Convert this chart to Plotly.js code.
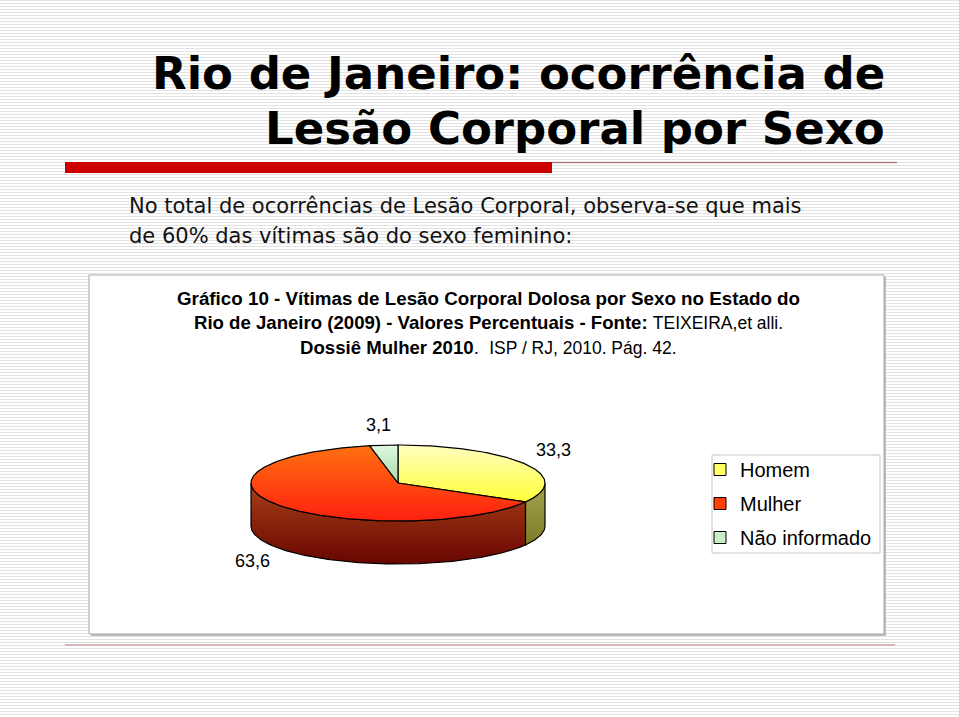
<!DOCTYPE html>
<html><head><meta charset="utf-8">
<script src="https://cdn.plot.ly/plotly-3.0.1.min.js"></script>
<style>
html,body{margin:0;padding:0;}
body{width:959px;height:717px;overflow:hidden;background:repeating-linear-gradient(to bottom,#e2e2e2 0px,#e2e2e2 1.5px,#ffffff 1.5px,#ffffff 3px);}
#chart{width:959px;height:717px;}
</style></head><body><div id="chart"></div>
<script>
// ---- data ----
const categories = ['Homem', 'Mulher', 'Não informado'];
const values = [33.3, 63.6, 3.1];
const legendColors = ['#ffff66', '#ff4000', '#c8f0c8'];
// colorscales run bottom (0) -> top (1)
const topGradients = [
  [[0, '#ffff38'], [1, '#ffffc0']],
  [[0, '#ff2010'], [1, '#ff7010']],
  [[0, '#a8dca8'], [1, '#e0f8e0']]
];
const sideGradients = [
  [[0, '#7c7c28'], [1, '#a4a450']],
  [[0, '#680600'], [1, '#a84018']],
  [[0, '#508050'], [1, '#70a070']]
];
const labelPos = [[553, 450], [252, 561], [378, 425]];

// ---- geometry (style) ----
const cx = 398, cy = 483, rx = 147, ry = 38, depth = 43;
function pt(t, dy) {
  const r = t * Math.PI / 180;
  return [cx + rx * Math.sin(r), cy - ry * Math.cos(r) + dy];
}
function arc(a, b, dy) {
  const out = [];
  const n = Math.max(2, Math.ceil(Math.abs(b - a)));
  for (let k = 0; k <= n; k++) out.push(pt(a + (b - a) * k / n, dy));
  return out;
}

const total = values.reduce((s, v) => s + v, 0);
const angles = [];
let acc = 0;
values.forEach(v => { const a0 = acc / total * 360; acc += v; angles.push([a0, acc / total * 360]); });

const sideTraces = [], topTraces = [];
values.forEach((v, i) => {
  const [t0, t1] = angles[i];
  const a = Math.max(t0, 90), b = Math.min(t1, 270);
  if (a < b) {
    const pts = arc(a, b, 0).concat(arc(b, a, depth));
    pts.push(pts[0]);
    sideTraces.push({
      type: 'scatter', mode: 'lines', x: pts.map(p => p[0]), y: pts.map(p => p[1]),
      fill: 'toself', fillgradient: {type: 'vertical', colorscale: sideGradients[i]},
      line: {color: '#000', width: 1.2}, showlegend: false, hoverinfo: 'skip'
    });
  }
  const tp = [[cx, cy]].concat(arc(t0, t1, 0));
  tp.push([cx, cy]);
  topTraces.push({
    type: 'scatter', mode: 'lines', x: tp.map(p => p[0]), y: tp.map(p => p[1]),
    fill: 'toself', fillgradient: {type: 'vertical', colorscale: topGradients[i]},
    line: {color: '#000', width: 1.2}, showlegend: false, name: categories[i],
    hoverinfo: 'text', text: categories[i] + ': ' + v
  });
});

const legendTraces = categories.map((c, i) => ({
  type: 'scatter', mode: 'markers', x: [null], y: [null], name: c,
  marker: {symbol: 'square', size: 12, color: legendColors[i], line: {color: '#000', width: 1}},
  showlegend: true, legendgroup: 'g' + i
}));

const valueAnnotations = values.map((v, i) => ({
  x: labelPos[i][0], y: labelPos[i][1], xref: 'x', yref: 'y', showarrow: false,
  text: String(v).replace('.', ','),
  font: {family: 'Liberation Sans, Arial, sans-serif', size: 18, color: '#000'}
}));

const sans = 'Liberation Sans, Arial, sans-serif';
const titleFont = {family: 'DejaVu Sans, Verdana, sans-serif', weight: 'bold', size: 45, color: '#000'};
const bodyFont = {family: 'DejaVu Sans, sans-serif', size: 21, color: '#111'};
const annotations = [
  {x: 887, y: 73, xref: 'x', yref: 'y', xanchor: 'right', showarrow: false,
   text: 'Rio de Janeiro: ocorrência de', font: titleFont},
  {x: 887, y: 128, xref: 'x', yref: 'y', xanchor: 'right', showarrow: false,
   text: 'Lesão Corporal por Sexo', font: titleFont},
  {x: 127, y: 206, xref: 'x', yref: 'y', xanchor: 'left', showarrow: false,
   text: 'No total de ocorrências de Lesão Corporal, observa-se que mais', font: bodyFont},
  {x: 127, y: 236, xref: 'x', yref: 'y', xanchor: 'left', showarrow: false,
   text: 'de 60% das vítimas são do sexo feminino:', font: bodyFont},
  {x: 488, y: 298, xref: 'x', yref: 'y', showarrow: false,
   text: '<b>Gráfico 10 - Vítimas de Lesão Corporal Dolosa por Sexo no Estado do</b>',
   font: {family: sans, size: 18.8, color: '#000'}},
  {x: 488, y: 322, xref: 'x', yref: 'y', showarrow: false,
   text: '<b>Rio de Janeiro (2009) - Valores Percentuais - Fonte:</b> <span style="font-size:17.5px">TEIXEIRA,et alli.</span>',
   font: {family: sans, size: 18.6, color: '#000'}},
  {x: 488, y: 347, xref: 'x', yref: 'y', showarrow: false,
   text: '<b>Dossiê Mulher 2010</b>.  <span style="font-size:17.5px">ISP / RJ, 2010. Pág. 42.</span>',
   font: {family: sans, size: 18.6, color: '#000'}}
].concat(valueAnnotations);

const shapes = [
  {type: 'rect', xref: 'x', yref: 'y', x0: 91, x1: 886, y0: 277, y1: 636, fillcolor: '#bdbdbd', line: {width: 0}, layer: 'below'},
  {type: 'rect', xref: 'x', yref: 'y', x0: 89, x1: 884, y0: 275, y1: 634, fillcolor: '#ffffff', line: {color: '#a8a8a8', width: 1}, layer: 'below'},
  {type: 'rect', xref: 'x', yref: 'y', x0: 65, x1: 552, y0: 162, y1: 173, fillcolor: '#cc0000', line: {width: 0}},
  {type: 'line', xref: 'x', yref: 'y', x0: 552, x1: 897, y0: 162.5, y1: 162.5, line: {color: '#a88080', width: 1.5}},
  {type: 'line', xref: 'x', yref: 'y', x0: 65, x1: 895, y0: 645, y1: 645, line: {color: '#d4b8b8', width: 2}},
  {type: 'rect', xref: 'x', yref: 'y', x0: 712, x1: 880, y0: 455, y1: 553, fillcolor: '#ffffff', line: {color: '#c8c8c8', width: 1}, layer: 'below'}
];

const layout = {
  width: 959, height: 717, autosize: false,
  margin: {l: 0, r: 0, t: 0, b: 0, pad: 0},
  paper_bgcolor: 'rgba(0,0,0,0)', plot_bgcolor: 'rgba(0,0,0,0)',
  xaxis: {range: [0, 959], visible: false, fixedrange: true},
  yaxis: {range: [717, 0], visible: false, fixedrange: true},
  showlegend: true,
  legend: {x: 700 / 959, y: 1 - 450 / 717, xanchor: 'left', yanchor: 'top',
           bgcolor: 'rgba(0,0,0,0)', borderwidth: 0, traceorder: 'grouped', tracegroupgap: 5,
           font: {family: 'Liberation Sans, Arial, sans-serif', size: 20, color: '#000'}},
  annotations: annotations,
  shapes: shapes
};

Plotly.newPlot('chart', sideTraces.concat(topTraces).concat(legendTraces), layout, {displayModeBar: false, staticPlot: true});
</script></body></html>
